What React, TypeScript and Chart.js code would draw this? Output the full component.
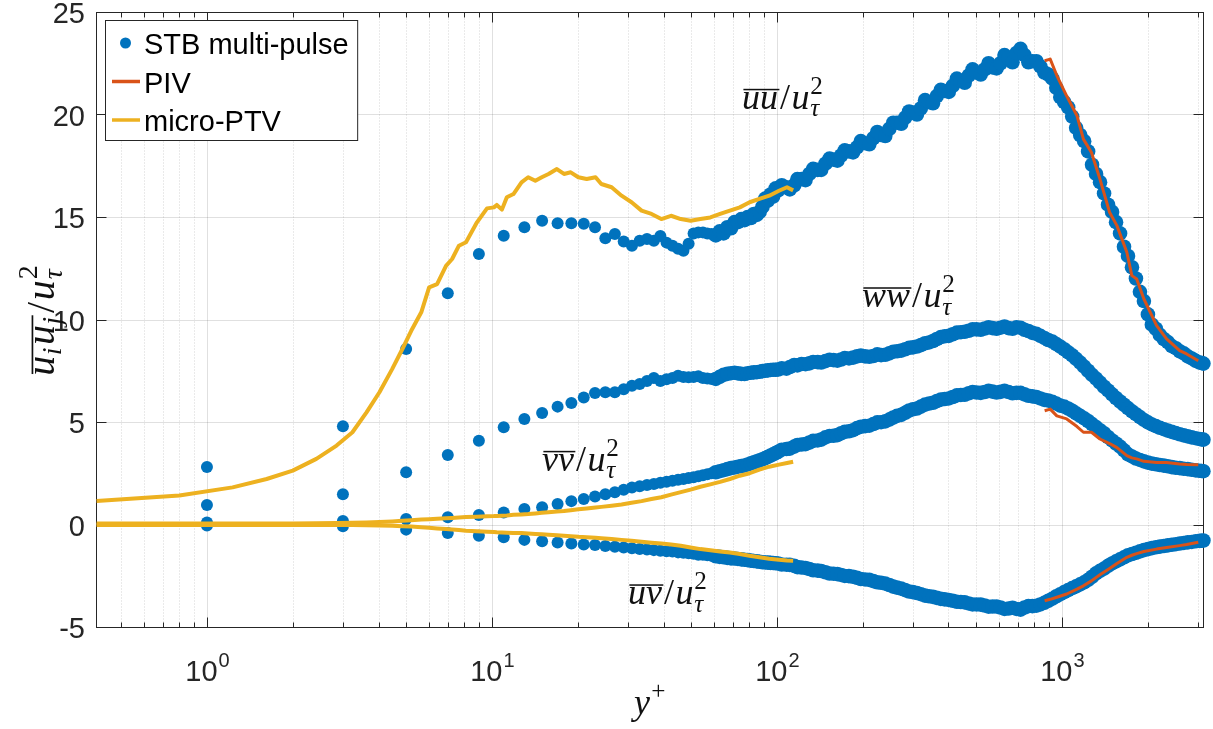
import { useEffect, useRef } from 'react';
import { Chart, registerables } from 'chart.js';

Chart.register(...registerables);

// ---------------- data ----------------
// STB multi-pulse: shared wall-normal positions y+ and the four stress components
const stbYPlus = [1, 3, 5, 7, 9, 11, 13, 15, 17, 19, 21, 23, 25, 27, 29, 31, 33, 35, 37, 39, 41, 43, 45, 47, 49, 51,
  53, 55, 57, 59, 61, 63, 65, 67, 69, 71, 73, 75, 77, 79, 81, 83, 85, 87, 89, 91, 93, 95, 97, 99,
  101, 104, 108, 111, 115, 118, 122, 126, 130, 134, 139, 143, 148, 153, 158, 163, 168, 173, 179, 185,
  191, 197, 204, 211, 218, 225, 232, 240, 248, 256, 264, 273, 282, 291, 300, 310, 320, 331, 342, 353,
  364, 376, 388, 401, 414, 428, 442, 456, 471, 486, 502, 519, 536, 553, 571, 590, 609, 629, 650, 671,
  693, 716, 739, 763, 788, 814, 840, 868, 896, 926, 956, 987, 1019, 1052, 1087, 1122, 1159, 1197, 1236, 1276,
  1318, 1361, 1406, 1452, 1500, 1549, 1600, 1652, 1706, 1762, 1819, 1879, 1940, 2004, 2069, 2137, 2207, 2279, 2354, 2431,
  2510, 2592, 2677, 2765, 2855, 2949, 3045, 3095, 3138];

const stbUU = [2.80, 4.79, 8.56, 11.28, 13.20, 14.09, 14.50, 14.82, 14.70, 14.70, 14.67, 14.50, 13.96, 14.17, 13.80, 13.60, 13.84, 13.93, 13.84, 14.07, 13.75, 13.60, 13.45, 13.35, 13.70, 14.20,
  14.25, 14.25, 14.20, 14.17, 14.10, 14.30, 14.20, 14.50, 14.45, 14.75, 14.75, 14.90, 14.85, 15.00, 14.95, 15.15, 15.10, 15.25, 15.50, 15.90, 15.80, 16.10, 16.00, 16.40,
  16.30, 16.55, 16.45, 16.35, 16.55, 16.85, 16.85, 16.80, 17.10, 17.35, 17.30, 17.30, 17.60, 17.85, 17.80, 17.75, 18.00, 18.25, 18.20, 18.15,
  18.40, 18.70, 18.60, 18.55, 18.85, 19.15, 19.00, 18.95, 19.30, 19.60, 19.60, 19.55, 19.85, 20.15, 20.10, 20.00, 20.30, 20.70, 20.60, 20.55,
  20.90, 21.20, 21.15, 21.10, 21.40, 21.75, 21.65, 21.55, 21.90, 22.20, 22.05, 21.95, 22.20, 22.50, 22.30, 22.25, 22.50, 22.90, 22.75, 22.55,
  23.00, 23.20, 22.90, 22.55, 22.60, 22.60, 22.35, 22.05, 21.95, 21.75, 21.30, 20.85, 20.60, 20.35, 19.90, 19.35, 19.00, 18.70, 18.20, 17.55,
  17.10, 16.70, 16.15, 15.60, 15.25, 14.75, 14.20, 13.55, 13.10, 12.55, 12.00, 11.35, 10.90, 10.25, 9.75, 9.55, 9.25, 9.05, 8.90, 8.70,
  8.60, 8.45, 8.35, 8.20, 8.10, 7.98, 7.90, 7.88, 7.85];

const stbVV = [0.10, 0.17, 0.27, 0.35, 0.46, 0.58, 0.76, 0.84, 1.00, 1.14, 1.24, 1.37, 1.47, 1.57, 1.70, 1.80, 1.87, 1.93, 1.98, 2.04, 2.08, 2.13, 2.18, 2.22, 2.27, 2.30,
  2.35, 2.40, 2.45, 2.50, 2.55, 2.60, 2.65, 2.70, 2.75, 2.78, 2.82, 2.85, 2.88, 2.93, 2.98, 3.03, 3.08, 3.13, 3.18, 3.24, 3.30, 3.36, 3.42, 3.48,
  3.55, 3.65, 3.68, 3.70, 3.80, 3.88, 3.90, 3.92, 4.00, 4.08, 4.10, 4.14, 4.25, 4.32, 4.33, 4.36, 4.45, 4.52, 4.55, 4.60,
  4.70, 4.77, 4.80, 4.82, 4.90, 4.98, 4.99, 5.03, 5.12, 5.22, 5.30, 5.35, 5.45, 5.56, 5.62, 5.66, 5.75, 5.85, 5.90, 5.94,
  6.02, 6.09, 6.12, 6.15, 6.22, 6.30, 6.32, 6.33, 6.40, 6.46, 6.44, 6.42, 6.46, 6.52, 6.48, 6.44, 6.47, 6.52, 6.46, 6.40,
  6.42, 6.42, 6.35, 6.28, 6.25, 6.22, 6.15, 6.08, 6.05, 5.98, 5.90, 5.80, 5.75, 5.66, 5.55, 5.42, 5.30, 5.18, 5.05, 4.90,
  4.75, 4.60, 4.45, 4.27, 4.10, 3.95, 3.80, 3.62, 3.42, 3.32, 3.22, 3.15, 3.08, 3.02, 2.97, 2.94, 2.90, 2.87, 2.84, 2.80,
  2.77, 2.75, 2.72, 2.70, 2.67, 2.64, 2.62, 2.61, 2.60];

const stbWW = [0.95, 1.47, 2.55, 3.39, 4.09, 4.74, 5.15, 5.44, 5.75, 5.93, 6.20, 6.41, 6.45, 6.45, 6.60, 6.77, 6.85, 7.00, 7.15, 7.00, 7.08, 7.15, 7.26, 7.20, 7.18, 7.20,
  7.23, 7.15, 7.12, 7.10, 7.10, 7.20, 7.30, 7.35, 7.38, 7.40, 7.37, 7.35, 7.34, 7.38, 7.40, 7.42, 7.43, 7.45, 7.48, 7.50, 7.52, 7.54, 7.55, 7.55,
  7.56, 7.62, 7.60, 7.68, 7.78, 7.76, 7.83, 7.82, 7.86, 7.93, 7.92, 7.90, 7.97, 8.04, 8.02, 7.99, 8.05, 8.12, 8.10, 8.14,
  8.20, 8.24, 8.20, 8.18, 8.22, 8.30, 8.26, 8.28, 8.35, 8.43, 8.45, 8.48, 8.55, 8.62, 8.64, 8.68, 8.75, 8.84, 8.88, 8.95,
  9.05, 9.14, 9.18, 9.20, 9.28, 9.36, 9.38, 9.40, 9.45, 9.52, 9.52, 9.50, 9.56, 9.62, 9.58, 9.55, 9.60, 9.66, 9.58, 9.55,
  9.62, 9.60, 9.50, 9.44, 9.35, 9.30, 9.20, 9.10, 9.00, 8.92, 8.80, 8.68, 8.55, 8.40, 8.25, 8.08, 7.90, 7.70, 7.50, 7.30,
  7.12, 6.92, 6.72, 6.54, 6.35, 6.17, 6.00, 5.84, 5.68, 5.52, 5.38, 5.24, 5.10, 4.98, 4.88, 4.80, 4.72, 4.65, 4.58, 4.52,
  4.46, 4.40, 4.35, 4.30, 4.25, 4.21, 4.17, 4.15, 4.14];

const stbUV = [-0.05, -0.09, -0.25, -0.41, -0.55, -0.62, -0.75, -0.82, -0.88, -0.93, -0.97, -1.00, -1.05, -1.08, -1.12, -1.16, -1.20, -1.22, -1.25, -1.28, -1.30, -1.32, -1.36, -1.38, -1.40, -1.43,
  -1.47, -1.48, -1.50, -1.53, -1.55, -1.58, -1.60, -1.63, -1.65, -1.66, -1.68, -1.70, -1.72, -1.74, -1.76, -1.78, -1.80, -1.82, -1.84, -1.85, -1.86, -1.87, -1.88, -1.89,
  -1.90, -1.95, -1.96, -1.97, -2.02, -2.08, -2.10, -2.12, -2.17, -2.23, -2.25, -2.27, -2.33, -2.39, -2.40, -2.42, -2.46, -2.51, -2.52, -2.55,
  -2.60, -2.66, -2.68, -2.70, -2.76, -2.82, -2.84, -2.88, -2.95, -3.03, -3.08, -3.13, -3.20, -3.27, -3.30, -3.34, -3.40, -3.47, -3.50, -3.53,
  -3.58, -3.63, -3.65, -3.68, -3.72, -3.77, -3.78, -3.80, -3.85, -3.90, -3.90, -3.91, -3.95, -4.01, -4.00, -4.00, -4.05, -4.12, -4.10, -4.06,
  -4.12, -4.15, -4.05, -3.98, -3.98, -3.96, -3.90, -3.82, -3.72, -3.62, -3.50, -3.40, -3.30, -3.20, -3.10, -3.02, -2.92, -2.82, -2.70, -2.55,
  -2.38, -2.26, -2.15, -2.02, -1.90, -1.80, -1.70, -1.60, -1.50, -1.44, -1.38, -1.31, -1.25, -1.20, -1.15, -1.11, -1.08, -1.05, -1.02, -0.99,
  -0.96, -0.93, -0.90, -0.87, -0.85, -0.82, -0.80, -0.79, -0.78];

// PIV
const pivYPlus = [870, 910, 960, 1040, 1130, 1190, 1270, 1360, 1470, 1560, 1690, 1760, 1830, 1940, 2150, 2330, 2590, 2740, 3010];
const pivUU = [22.62, 22.70, 21.90, 20.90, 19.94, 18.80, 18.15, 16.85, 15.23, 14.58, 13.28, 12.14, 11.98, 11.00, 9.70, 9.05, 8.48, 8.32, 7.99];
const pivVV = [5.55, 5.63, 5.30, 5.15, 4.78, 4.50, 4.50, 4.17, 3.95, 3.75, 3.36, 3.25, 3.20, 3.08, 3.03, 3.02, 2.95, 2.93, 2.92];
const pivUV = [-3.72, -3.65, -3.55, -3.39, -3.15, -2.99, -2.75, -2.45, -2.15, -1.90, -1.60, -1.50, -1.42, -1.32, -1.20, -1.12, -1.03, -0.98, -0.87];

// micro-PTV
const ptvYPlus = [0.41, 0.8, 1.23, 1.62, 2.0, 2.42, 2.85, 3.24, 3.63, 4.03,
  4.47, 4.85, 5.21, 5.65, 6.02, 6.42, 6.9, 7.25, 7.66, 8.11,
  8.86, 9.61, 10.16, 10.4, 10.84, 11.28, 11.9, 12.7, 13.4, 14.2,
  14.96, 15.8, 16.9, 17.9, 18.9, 20.1, 21.5, 23.1, 24.2, 26.3,
  28.5, 30.9, 33.5, 36.3, 39.3, 42.5, 46.0, 49.8, 53.9, 58.4,
  63.2, 68.4, 74.1, 80.2, 86.8, 94.0, 101.7, 108.5, 114];
const ptvUU = [1.15, 1.41, 1.81, 2.22, 2.63, 3.20, 3.85, 4.50, 5.47, 6.45,
  7.59, 8.56, 9.45, 10.35, 11.57, 11.73, 12.62, 12.95, 13.60, 13.77,
  14.74, 15.42, 15.47, 15.59, 15.36, 15.96, 16.12, 16.69, 16.94, 16.77,
  16.94, 17.10, 17.34, 17.10, 17.18, 16.94, 16.85, 16.94, 16.61, 16.45,
  16.04, 15.72, 15.31, 15.15, 14.90, 15.06, 14.90, 14.82, 14.90, 14.98,
  15.15, 15.31, 15.47, 15.72, 15.88, 16.04, 16.28, 16.45, 16.30];
const ptvVV = [0.05, 0.05, 0.05, 0.05, 0.05, 0.06, 0.07, 0.08, 0.10, 0.12,
  0.15, 0.18, 0.21, 0.24, 0.26, 0.28, 0.30, 0.32, 0.34, 0.36,
  0.38, 0.40, 0.41, 0.42, 0.43, 0.44, 0.47, 0.49, 0.51, 0.54,
  0.57, 0.60, 0.63, 0.66, 0.70, 0.74, 0.78, 0.83, 0.86, 0.92,
  0.98, 1.06, 1.14, 1.24, 1.33, 1.46, 1.58, 1.70, 1.84, 1.96,
  2.08, 2.22, 2.38, 2.50, 2.68, 2.82, 2.92, 3.00, 3.06];
const ptvUV = [-0.02, -0.02, -0.02, -0.02, -0.02, -0.02, -0.02, -0.03, -0.04, -0.05,
  -0.06, -0.08, -0.10, -0.13, -0.16, -0.19, -0.22, -0.24, -0.27, -0.30,
  -0.33, -0.35, -0.37, -0.38, -0.39, -0.40, -0.41, -0.42, -0.44, -0.46,
  -0.48, -0.50, -0.53, -0.55, -0.57, -0.60, -0.62, -0.65, -0.67, -0.71,
  -0.75, -0.79, -0.84, -0.89, -0.93, -0.98, -1.04, -1.12, -1.20, -1.26,
  -1.32, -1.37, -1.44, -1.52, -1.60, -1.67, -1.72, -1.76, -1.77];

// axes / ticks / labels
const X_MIN = 0.408;
const X_MAX = 3140;
const Y_MIN = -5;
const Y_MAX = 25;
const yTickValues = [-5, 0, 5, 10, 15, 20, 25];
const xMajorValues = [1, 10, 100, 1000];
const xTickBase = '10';
const xTickExponents = ['0', '1', '2', '3'];
const legendLabels = ['STB multi-pulse', 'PIV', 'micro-PTV'];
const componentNames = ['uu', 'ww', 'vv', 'uv'];
// anchor (y+, value) of each component label
const componentAnchorX = [75.4, 198.7, 14.98, 30.0];
const componentAnchorY = [20.27, 10.59, 2.61, -3.90];

// ---------------- styles ----------------
const BLUE = '#0072BD';
const ORANGE = '#D95319';
const YELLOW = '#EDB120';
const AXIS = '#262626';
const SANS = '"Liberation Sans", Arial, Helvetica, sans-serif';
const SERIF = '"Liberation Serif", "Times New Roman", serif';

type Tok = { s: string; it?: boolean; k?: number; dy?: number; stack?: boolean; over?: boolean; gap?: number };

function runTokens(ctx: CanvasRenderingContext2D, toks: Tok[], size: number, x0: number, y0: number, draw: boolean): number {
  let cx = x0;
  let oS = Infinity;
  let oE = -Infinity;
  let pending = 0;
  for (const t of toks) {
    cx += (t.gap ?? 0) * size;
    const fs = size * (t.k ?? 1);
    ctx.font = `${t.it ? 'italic ' : ''}${fs}px ${SERIF}`;
    const w = ctx.measureText(t.s).width;
    if (draw) ctx.fillText(t.s, cx, y0 + (t.dy ?? 0) * size);
    if (t.over) {
      oS = Math.min(oS, cx);
      oE = Math.max(oE, cx + w);
    }
    if (t.stack) {
      pending = w;
    } else {
      cx += Math.max(w, pending);
      pending = 0;
    }
  }
  if (draw && oS < oE) {
    ctx.fillRect(oS + size * 0.04, y0 - size * 0.56, oE - oS, Math.max(1.4, size * 0.042));
  }
  return cx - x0;
}

function stressTokens(name: string): Tok[] {
  return [
    { s: name, it: true, over: true },
    { s: '/', gap: 0.06 },
    { s: 'u', it: true, gap: 0.04 },
    { s: '2', k: 0.7, dy: -0.42, stack: true, gap: 0.02 },
    { s: '\u03C4', it: true, k: 0.7, dy: 0.2 },
  ];
}

const yTitleTokens: Tok[] = [
  { s: 'u', it: true, over: true },
  { s: 'i', it: true, k: 0.7, dy: 0.18, over: true, gap: 0.01 },
  { s: 'u', it: true, over: true, gap: 0.06 },
  { s: 'j', it: true, k: 0.7, dy: 0.18, over: true, gap: 0.01 },
  { s: '/', gap: 0.1 },
  { s: 'u', it: true, gap: 0.04 },
  { s: '2', k: 0.7, dy: -0.42, stack: true, gap: 0.02 },
  { s: '\u03C4', it: true, k: 0.7, dy: 0.2 },
];

const xTitleTokens: Tok[] = [
  { s: 'y', it: true },
  { s: '+', k: 0.7, dy: -0.42, gap: 0.04 },
];

const matlabAxes = {
  id: 'matlabAxes',
  beforeDatasetsDraw(chart: any) {
    const { ctx, chartArea: a } = chart;
    const xs = chart.scales.x;
    const ys = chart.scales.y;
    const L = Math.floor(a.left) + 0.5;
    const R = Math.floor(a.right) + 0.5;
    const T = Math.floor(a.top) + 0.5;
    const B = Math.floor(a.bottom) + 0.5;
    const line = (x1: number, y1: number, x2: number, y2: number) => {
      ctx.beginPath();
      ctx.moveTo(x1, y1);
      ctx.lineTo(x2, y2);
      ctx.stroke();
    };
    const minors: number[] = [];
    for (let e = -1; e <= 3; e++) {
      for (let k = 2; k <= 9; k++) {
        const v = k * Math.pow(10, e);
        if (v > X_MIN && v < X_MAX) minors.push(v);
      }
    }
    ctx.save();
    ctx.lineWidth = 1;
    ctx.strokeStyle = 'rgba(38,38,38,0.2)';
    ctx.setLineDash([1, 2]);
    for (const v of minors) {
      const p = Math.round(xs.getPixelForValue(v)) + 0.5;
      line(p, T, p, B);
    }
    ctx.setLineDash([]);
    ctx.strokeStyle = 'rgba(38,38,38,0.14)';
    for (const v of xMajorValues) {
      const p = Math.round(xs.getPixelForValue(v)) + 0.5;
      line(p, T, p, B);
    }
    for (const v of yTickValues) {
      if (v === Y_MIN || v === Y_MAX) continue;
      const p = Math.round(ys.getPixelForValue(v)) + 0.5;
      line(L, p, R, p);
    }
    ctx.strokeStyle = AXIS;
    for (const v of minors) {
      const p = Math.round(xs.getPixelForValue(v)) + 0.5;
      line(p, B, p, B - 5);
      line(p, T, p, T + 5);
    }
    for (const v of xMajorValues) {
      const p = Math.round(xs.getPixelForValue(v)) + 0.5;
      line(p, B, p, B - 10);
      line(p, T, p, T + 10);
    }
    for (const v of yTickValues) {
      const p = Math.round(ys.getPixelForValue(v)) + 0.5;
      line(L, p, L + 10, p);
      line(R, p, R - 10, p);
    }
    ctx.strokeRect(L, T, R - L, B - T);
    ctx.restore();
  },
  afterDraw(chart: any) {
    const { ctx, chartArea: a } = chart;
    const xs = chart.scales.x;
    const ys = chart.scales.y;
    ctx.save();
    ctx.textBaseline = 'alphabetic';
    ctx.textAlign = 'left';

    // x tick labels 10^n
    ctx.fillStyle = AXIS;
    xMajorValues.forEach((v, i) => {
      const p = xs.getPixelForValue(v);
      ctx.font = `29px ${SANS}`;
      const wb = ctx.measureText(xTickBase).width;
      ctx.font = `20px ${SANS}`;
      const we = ctx.measureText(xTickExponents[i]).width;
      const x0 = p - (wb + we) / 2;
      ctx.font = `29px ${SANS}`;
      ctx.fillText(xTickBase, x0, 681);
      ctx.font = `20px ${SANS}`;
      ctx.fillText(xTickExponents[i], x0 + wb + 1, 667);
    });

    // axis titles
    ctx.fillStyle = '#111';
    const wx = runTokens(ctx, xTitleTokens, 36, 0, 0, false);
    runTokens(ctx, xTitleTokens, 36, (a.left + a.right) / 2 - wx / 2, 714, true);

    const YS = 40;
    const wy = runTokens(ctx, yTitleTokens, YS, 0, 0, false);
    ctx.save();
    ctx.translate(54, (a.top + a.bottom) / 2 + 1);
    ctx.rotate(-Math.PI / 2);
    runTokens(ctx, yTitleTokens, YS, -wy / 2, 0, true);
    ctx.restore();

    // component labels
    componentNames.forEach((n, i) => {
      const px = xs.getPixelForValue(componentAnchorX[i]);
      const py = ys.getPixelForValue(componentAnchorY[i]);
      runTokens(ctx, stressTokens(n), 36, px, py, true);
    });

    // legend
    const LX = 105.5;
    const LY = 20.5;
    const rows = [43, 81.5, 120];
    const textX = 144;
    ctx.font = `29px ${SANS}`;
    const tw = Math.max(...legendLabels.map((t) => ctx.measureText(t).width));
    const LW = textX + tw + 9 - LX;
    const LH = 120;
    ctx.fillStyle = '#fff';
    ctx.fillRect(LX, LY, LW, LH);
    ctx.strokeStyle = AXIS;
    ctx.lineWidth = 1;
    ctx.strokeRect(LX, LY, LW, LH);
    ctx.fillStyle = BLUE;
    ctx.beginPath();
    ctx.arc(125.5, rows[0], 5.5, 0, Math.PI * 2);
    ctx.fill();
    ctx.lineWidth = 3.5;
    ctx.strokeStyle = ORANGE;
    ctx.beginPath();
    ctx.moveTo(112, rows[1]);
    ctx.lineTo(140, rows[1]);
    ctx.stroke();
    ctx.strokeStyle = YELLOW;
    ctx.beginPath();
    ctx.moveTo(112, rows[2]);
    ctx.lineTo(140, rows[2]);
    ctx.stroke();
    ctx.fillStyle = '#000';
    ctx.font = `29px ${SANS}`;
    legendLabels.forEach((t, i) => ctx.fillText(t, textX, rows[i] + 11));
    ctx.restore();
  },
};

const pts = (xs: number[], ys: number[]) => xs.map((x, i) => ({ x, y: ys[i] }));

export default function App() {
  const ref = useRef<HTMLCanvasElement>(null);
  useEffect(() => {
    const canvas = ref.current;
    if (!canvas) return;
    const stb = (d: number[]) => ({
      data: pts(stbYPlus, d),
      showLine: false,
      // isolated samples near the wall vs. overlapping, noisy samples further out
      pointRadius: (c: any) => (c.raw && c.raw.x > 60 ? 7.3 : 6),
      pointBorderWidth: 0,
      pointBackgroundColor: BLUE,
      backgroundColor: BLUE,
      borderColor: BLUE,
      clip: false as any,
      order: 3,
    });
    const ln = (xs: number[], d: number[], color: string, w: number, order: number) => ({
      data: pts(xs, d),
      showLine: true,
      pointRadius: 0,
      borderColor: color,
      backgroundColor: color,
      borderWidth: w,
      borderJoinStyle: 'round' as const,
      borderCapStyle: 'butt' as const,
      tension: 0,
      order,
    });
    const chart = new Chart(canvas, {
      type: 'scatter',
      data: {
        datasets: [
          { label: legendLabels[0], ...stb(stbUU) },
          { label: legendLabels[0], ...stb(stbWW) },
          { label: legendLabels[0], ...stb(stbVV) },
          { label: legendLabels[0], ...stb(stbUV) },
          { label: legendLabels[1], ...ln(pivYPlus, pivUU, ORANGE, 3, 2) },
          { label: legendLabels[1], ...ln(pivYPlus, pivVV, ORANGE, 3, 2) },
          { label: legendLabels[1], ...ln(pivYPlus, pivUV, ORANGE, 3, 2) },
          { label: legendLabels[2], ...ln(ptvYPlus, ptvUU, YELLOW, 4, 1) },
          { label: legendLabels[2], ...ln(ptvYPlus, ptvVV, YELLOW, 4, 1) },
          { label: legendLabels[2], ...ln(ptvYPlus, ptvUV, YELLOW, 4, 1) },
        ] as any,
      },
      options: {
        animation: false,
        responsive: false,
        events: [],
        layout: { padding: { left: 0, top: 12, right: 9.5, bottom: 0 } },
        plugins: { legend: { display: false }, tooltip: { enabled: false } },
        scales: {
          x: {
            type: 'logarithmic',
            min: X_MIN,
            max: X_MAX,
            grid: { display: false },
            border: { display: false },
            ticks: { display: false },
            afterFit: (s: any) => {
              s.height = 102;
              s.paddingLeft = 0;
              s.paddingRight = 0;
            },
          },
          y: {
            type: 'linear',
            min: Y_MIN,
            max: Y_MAX,
            grid: { display: false, drawTicks: false },
            border: { display: false },
            ticks: {
              stepSize: 5,
              color: AXIS,
              padding: 11,
              labelOffset: 3,
              font: { family: SANS, size: 29 },
              callback: (v: any) => String(v),
            },
            afterFit: (s: any) => {
              s.width = 96;
              s.paddingTop = 0;
              s.paddingBottom = 0;
            },
          },
        } as any,
      },
      plugins: [matlabAxes as any],
    });
    return () => chart.destroy();
  }, []);
  return (
    <canvas
      ref={ref}
      width={1213}
      height={729}
      style={{ position: 'absolute', left: 0, top: 0, display: 'block', background: '#fff' }}
    />
  );
}
